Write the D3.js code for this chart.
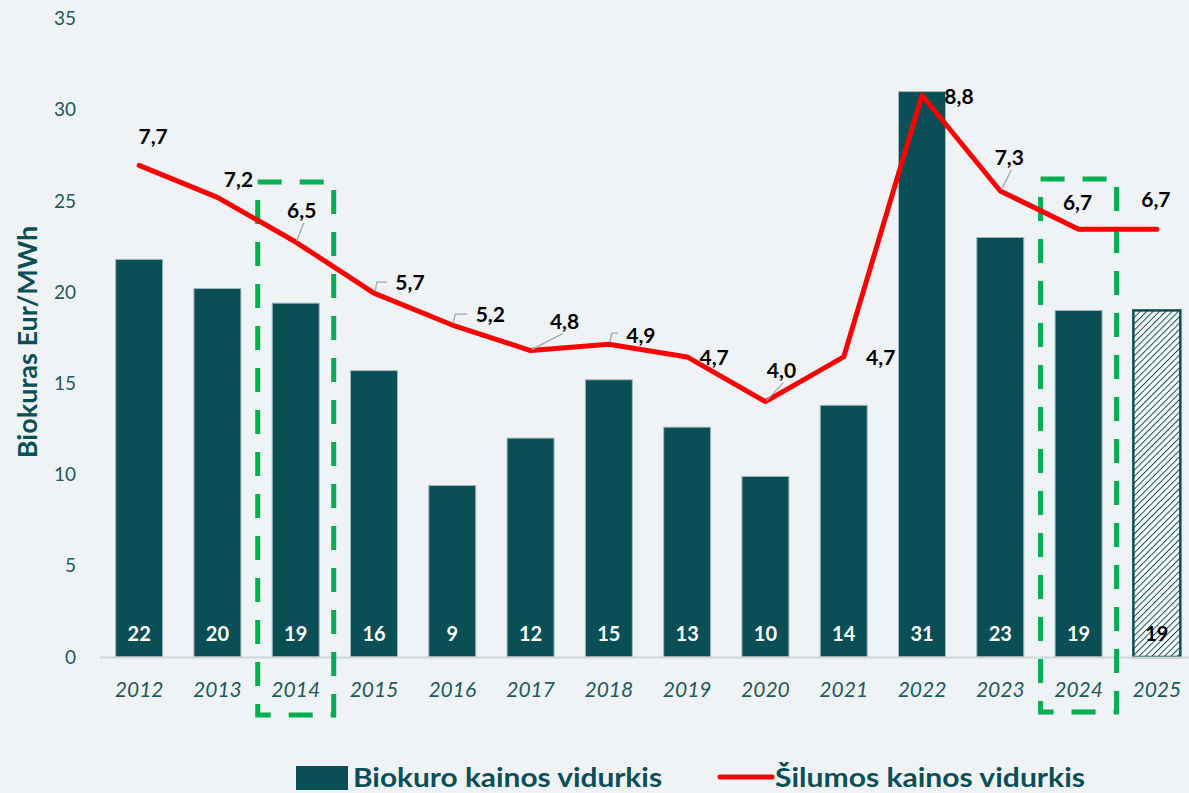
<!DOCTYPE html>
<html>
<head>
<meta charset="utf-8">
<script src="https://cdn.jsdelivr.net/npm/d3@7"></script>
<style>
  html, body { margin: 0; padding: 0; background: #EFF3F6; }
  svg { display: block; font-family: Lato, "Open Sans", sans-serif; }
</style>
</head>
<body>
<svg id="chart" width="1189" height="793"></svg>
<script>
// Years on the category axis
const years = ["2012","2013","2014","2015","2016","2017","2018","2019","2020","2021","2022","2023","2024","2025"];
// Average biofuel price, Eur/MWh (bars)
const biofuelPrice = [21.8, 20.2, 19.4, 15.7, 9.4, 12.0, 15.2, 12.6, 9.9, 13.8, 31.0, 23.0, 19.0, 19.0];
// Labels printed on the bars
const biofuelLabels = [22, 20, 19, 16, 9, 12, 15, 13, 10, 14, 31, 23, 19, 19];
// Average heat price, ct/kWh (line, secondary scale)
const heatPrice = [7.7, 7.2, 6.5, 5.7, 5.2, 4.8, 4.9, 4.7, 4.0, 4.7, 8.8, 7.3, 6.7, 6.7];
// Left axis ticks
const yTicks = [0, 5, 10, 15, 20, 25, 30, 35];
// Years that are highlighted with a dashed frame
const highlighted = ["2014", "2024"];
// Year shown as a forecast (hatched bar)
const forecastYear = "2025";

// Label placement for the line values: [dx, dy, leader type]
const heatLabelOffsets = [
  [14, -28, null], [21, -17, null], [6, -31, "diag"], [36, -10, "elbow"],
  [38, -10, "elbow"], [34, -29, "diag"], [32, -8, "elbow"], [27, 1, null],
  [16, -31, "diag"], [37, 1, null], [37, 2, null], [9, -33, "diag"],
  [-1, -26, null], [-1, -29, null]
];

const W = 1189, H = 793;
const teal = "#0A4F56";
const textTeal = "#1C5A60";
const svg = d3.select("#chart");

svg.append("rect").attr("width", W).attr("height", H).attr("fill", "#EFF3F6");

const x = d3.scaleBand().domain(years).range([100, 1196]).paddingInner(0.4).paddingOuter(0.2);
const y = d3.scaleLinear().domain([0, 35]).range([657, 18.6]);
const y2 = d3.scaleLinear().domain([0, 10]).range([657, 18.6]);

// Hatch pattern for the forecast bar
const defs = svg.append("defs");
const pat = defs.append("pattern")
  .attr("id", "hatch").attr("patternUnits", "userSpaceOnUse")
  .attr("width", 4.5).attr("height", 4.5)
  .attr("patternTransform", "rotate(45)");
pat.append("rect").attr("width", 4.5).attr("height", 4.5).attr("fill", "#ffffff");
pat.append("line").attr("x1", 0).attr("y1", 0).attr("x2", 0).attr("y2", 4.5)
  .attr("stroke", teal).attr("stroke-width", 2);

// Left axis
const yAxis = d3.axisLeft(y).tickValues(yTicks).tickSize(0).tickPadding(0);
const gy = svg.append("g").attr("transform", "translate(76,0)").call(yAxis);
gy.select(".domain").remove();
gy.selectAll("text").attr("fill", textTeal).attr("font-size", 19)
  .attr("font-family", "Lato, 'Open Sans', sans-serif");

// Axis title
svg.append("text")
  .attr("transform", "translate(37,342) rotate(-90)")
  .attr("text-anchor", "middle")
  .attr("fill", teal).attr("font-size", 27).attr("font-weight", 700)
  .text("Biokuras Eur/MWh");

// Bars
const barData = years.map((yr, i) => ({ year: yr, v: biofuelPrice[i], label: biofuelLabels[i] }));
svg.append("g").selectAll("rect").data(barData).join("rect")
  .attr("x", d => x(d.year))
  .attr("y", d => y(d.v))
  .attr("width", x.bandwidth())
  .attr("height", d => y(0) - y(d.v))
  .attr("fill", d => d.year === forecastYear ? "url(#hatch)" : teal)
  .attr("stroke", d => d.year === forecastYear ? teal : "#9FB9BC")
  .attr("stroke-width", d => d.year === forecastYear ? 2.5 : 1);

// Category axis
svg.append("line").attr("x1", 100).attr("x2", W).attr("y1", 657.5).attr("y2", 657.5)
  .attr("stroke", "#D3D6D8").attr("stroke-width", 2);
const xAxis = d3.axisBottom(x).tickSize(0).tickPadding(0);
const gx = svg.append("g").attr("transform", "translate(0,697)").call(xAxis);
gx.select(".domain").remove();
gx.selectAll("text").attr("fill", textTeal).attr("font-size", 21)
  .attr("font-style", "italic").attr("dy", 0)
  .attr("font-family", "Lato, 'Open Sans', sans-serif");

// Bar value labels
svg.append("g").selectAll("text").data(barData).join("text")
  .attr("x", d => x(d.year) + x.bandwidth() / 2)
  .attr("y", 641)
  .attr("text-anchor", "middle")
  .attr("font-size", 20).attr("font-weight", 700)
  .attr("fill", d => d.year === forecastYear ? "#000" : "#fff")
  .text(d => d.label);

// Dashed highlight frames
svg.append("g").selectAll("rect").data(highlighted).join("rect")
  .attr("x", d => x(d) + x.bandwidth() / 2 - 38)
  .attr("y", d => d === "2014" ? 182 : 179)
  .attr("width", 76)
  .attr("height", 533)
  .attr("fill", "none")
  .attr("stroke", "#00B050").attr("stroke-width", 5)
  .attr("stroke-dasharray", "24 18");

// Heat price line
const cx = d => x(d) + x.bandwidth() / 2;
const line = d3.line().x(d => cx(d.year)).y(d => y2(d.v));
const lineData = years.map((yr, i) => ({ year: yr, v: heatPrice[i] }));
svg.append("path").datum(lineData)
  .attr("d", line).attr("fill", "none")
  .attr("stroke", "#FF0000").attr("stroke-width", 5)
  .attr("stroke-linejoin", "round").attr("stroke-linecap", "round");

// Line value labels with leader lines
const lbl = svg.append("g");
lineData.forEach((d, i) => {
  const [dx, dy, kind] = heatLabelOffsets[i];
  const px = cx(d.year), py = y2(d.v);
  const tx = px + dx, ty = py + dy;
  if (kind === "diag") {
    lbl.append("line").attr("x1", px + 1).attr("y1", py - 1)
      .attr("x2", tx + (dx > 20 ? -2 : 2)).attr("y2", ty + 12)
      .attr("stroke", "#A6A6A6").attr("stroke-width", 1.3);
  } else if (kind === "elbow") {
    lbl.append("polyline")
      .attr("points", `${px + 1},${py - 2} ${px + 3},${py - 11} ${tx - 23},${py - 11}`)
      .attr("fill", "none").attr("stroke", "#A6A6A6").attr("stroke-width", 1.3);
  }
  lbl.append("text")
    .attr("x", tx).attr("y", ty + 7)
    .attr("text-anchor", "middle")
    .attr("font-size", 21).attr("font-weight", 700).attr("fill", "#000")
    .text(d3.format(".1f")(d.v).replace(".", ","));
});

// Legend
const leg = svg.append("g");
leg.append("rect").attr("x", 296).attr("y", 766).attr("width", 52).attr("height", 24).attr("fill", teal);
leg.append("text").attr("x", 353).attr("y", 787)
  .attr("fill", teal).attr("font-size", 26).attr("font-weight", 700)
  .attr("textLength", 309).attr("lengthAdjust", "spacingAndGlyphs")
  .text("Biokuro kainos vidurkis");
leg.append("line").attr("x1", 720).attr("x2", 772).attr("y1", 777).attr("y2", 777)
  .attr("stroke", "#FF0000").attr("stroke-width", 5).attr("stroke-linecap", "round");
leg.append("text").attr("x", 775).attr("y", 787)
  .attr("fill", teal).attr("font-size", 26).attr("font-weight", 700)
  .attr("textLength", 310).attr("lengthAdjust", "spacingAndGlyphs")
  .text("Šilumos kainos vidurkis");
</script>
</body>
</html>
